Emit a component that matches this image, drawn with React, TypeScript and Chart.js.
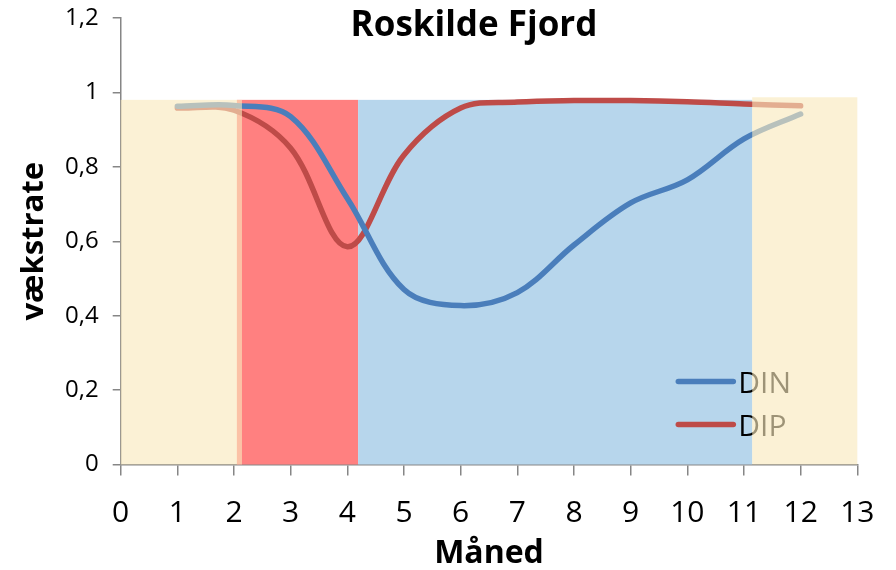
import { useEffect, useRef } from 'react';
import { Chart, registerables } from 'chart.js';

Chart.register(...registerables);

// Monthly growth rates limited by nitrogen (DIN) and phosphorus (DIP)
const months = [1, 2, 3, 4, 5, 6, 7, 8, 9, 10, 11, 12];
const dinRate = [0.963, 0.965, 0.935, 0.715, 0.47, 0.427, 0.462, 0.59, 0.703, 0.765, 0.875, 0.942];
const dipRate = [0.958, 0.952, 0.85, 0.585, 0.832, 0.958, 0.974, 0.978, 0.978, 0.975, 0.969, 0.964];
const seriesLabels = ['DIN', 'DIP'];

const xTickLabels = ['0', '1', '2', '3', '4', '5', '6', '7', '8', '9', '10', '11', '12', '13'];
const yTickLabels = ['0', '0,2', '0,4', '0,6', '0,8', '1', '1,2'];

// Seasonal bands along the month axis and the rate they reach up to
const bandFrom = [0, 2.05, 4.19, 11.145];
const bandTo = [2.14, 4.19, 11.145, 13];
const bandTop = [0.98, 0.98, 0.98, 0.987];

// Styling
const seriesColors = ['#4A7EBB', '#BE4B48'];
const bandFill = ['rgba(249,233,188,0.63)', 'rgb(255,128,128)', 'rgb(183,214,236)', 'rgba(249,233,188,0.63)'];
const bandOverLines = [true, false, false, true];
const FONT = '"Open Sans", "Liberation Sans", sans-serif';
const AXIS_GREY = '#868686';

function drawBands(chart: any, overLines: boolean) {
  const { ctx, scales } = chart;
  const xs = scales.x;
  const ys = scales.y;
  ctx.save();
  for (let i = 0; i < bandFrom.length; i++) {
    if (bandOverLines[i] !== overLines) continue;
    const x0 = xs.getPixelForValue(bandFrom[i]);
    const x1 = xs.getPixelForValue(bandTo[i]);
    const y0 = ys.getPixelForValue(0);
    const y1 = ys.getPixelForValue(bandTop[i]);
    ctx.fillStyle = bandFill[i];
    ctx.fillRect(x0, y1, x1 - x0, y0 - y1);
  }
  ctx.restore();
}

function drawLegend(chart: any) {
  const { ctx, chartArea } = chart;
  const lineStart = chartArea.right - 179;
  const lineEnd = chartArea.right - 124;
  const textX = chartArea.right - 119;
  const rows = [chartArea.bottom - 83, chartArea.bottom - 40];
  ctx.save();
  chart.data.datasets.forEach((ds: any, i: number) => {
    const y = rows[i];
    ctx.strokeStyle = ds.borderColor;
    ctx.lineWidth = 5.5;
    ctx.lineCap = 'round';
    ctx.beginPath();
    ctx.moveTo(lineStart, y);
    ctx.lineTo(lineEnd, y);
    ctx.stroke();
    ctx.fillStyle = '#000';
    ctx.font = `30px ${FONT}`;
    ctx.textAlign = 'left';
    ctx.textBaseline = 'alphabetic';
    ctx.fillText(ds.label, textX, y + 11);
  });
  ctx.restore();
}

function drawTitle(chart: any) {
  const { ctx, chartArea } = chart;
  ctx.save();
  ctx.fillStyle = '#000';
  ctx.font = `bold 35px ${FONT}`;
  ctx.textAlign = 'center';
  ctx.textBaseline = 'alphabetic';
  ctx.fillText('Roskilde Fjord', (chartArea.left + chartArea.right) / 2 - 15, 36);
  ctx.restore();
}

// Under-line bands, legend, then the translucent end-of-year bands on top
const overlayPlugin = {
  id: 'fjordOverlay',
  beforeDatasetsDraw(chart: any) {
    drawBands(chart, false);
  },
  afterDatasetsDraw(chart: any) {
    drawLegend(chart);
    drawBands(chart, true);
  },
  afterDraw(chart: any) {
    drawTitle(chart);
  },
};

export default function App() {
  const canvasRef = useRef<HTMLCanvasElement>(null);

  useEffect(() => {
    const canvas = canvasRef.current;
    if (!canvas) return;
    const series = [dinRate, dipRate];
    const chart = new Chart(canvas, {
      type: 'line',
      data: {
        datasets: series.map((values, i) => ({
          label: seriesLabels[i],
          data: months.map((m, j) => ({ x: m, y: values[j] })),
          borderColor: seriesColors[i],
          backgroundColor: seriesColors[i],
          borderWidth: 5.5,
          borderCapStyle: 'round' as const,
          borderJoinStyle: 'round' as const,
          pointRadius: 0,
          tension: 0.35,
          fill: false,
        })),
      },
      options: {
        animation: false,
        responsive: false,
        layout: { padding: { top: 18, right: 38.7, bottom: 0, left: 0 } },
        plugins: {
          legend: { display: false },
          title: { display: false },
          tooltip: { enabled: false },
        },
        scales: {
          x: {
            type: 'linear',
            min: 0,
            max: 13,
            afterFit: (s: any) => {
              s.height = 105.5;
              s.paddingLeft = 0;
              s.paddingRight = 0;
            },
            ticks: {
              stepSize: 1,
              autoSkip: false,
              maxRotation: 0,
              color: '#000',
              padding: 20,
              font: { family: FONT, size: 30 },
              callback: (v: any) => xTickLabels[Math.round(Number(v))] ?? '',
            },
            grid: {
              drawOnChartArea: false,
              drawTicks: true,
              tickLength: 11,
              color: AXIS_GREY,
              lineWidth: 1.5,
            },
            border: { display: true, color: AXIS_GREY, width: 1.5 },
            title: {
              display: true,
              text: 'Måned',
              color: '#000',
              font: { family: FONT, size: 32, weight: 'bold', lineHeight: 1 },
              padding: { top: 0, bottom: 0 },
            },
          },
          y: {
            type: 'linear',
            min: 0,
            max: 1.2,
            afterFit: (s: any) => {
              s.width = 120.7;
              s.paddingTop = 0;
              s.paddingBottom = 0;
            },
            ticks: {
              stepSize: 0.2,
              color: '#000',
              padding: 14,
              font: { family: FONT, size: 24 },
              callback: (v: any) => yTickLabels[Math.round(Number(v) * 5)] ?? '',
            },
            grid: {
              drawOnChartArea: false,
              drawTicks: true,
              tickLength: 8,
              color: AXIS_GREY,
              lineWidth: 1.5,
            },
            border: { display: true, color: AXIS_GREY, width: 1.5 },
            title: {
              display: true,
              text: 'vækstrate',
              color: '#000',
              font: { family: FONT, size: 31, weight: 'bold', lineHeight: 1 },
              padding: { top: 19, bottom: 0 },
            },
          },
        },
      },
      plugins: [overlayPlugin],
    });
    return () => chart.destroy();
  }, []);

  return (
    <div style={{ position: 'fixed', left: 0, top: 0, width: 896, height: 570, background: '#fff' }}>
      <canvas ref={canvasRef} width={896} height={570} style={{ display: 'block' }} />
    </div>
  );
}
